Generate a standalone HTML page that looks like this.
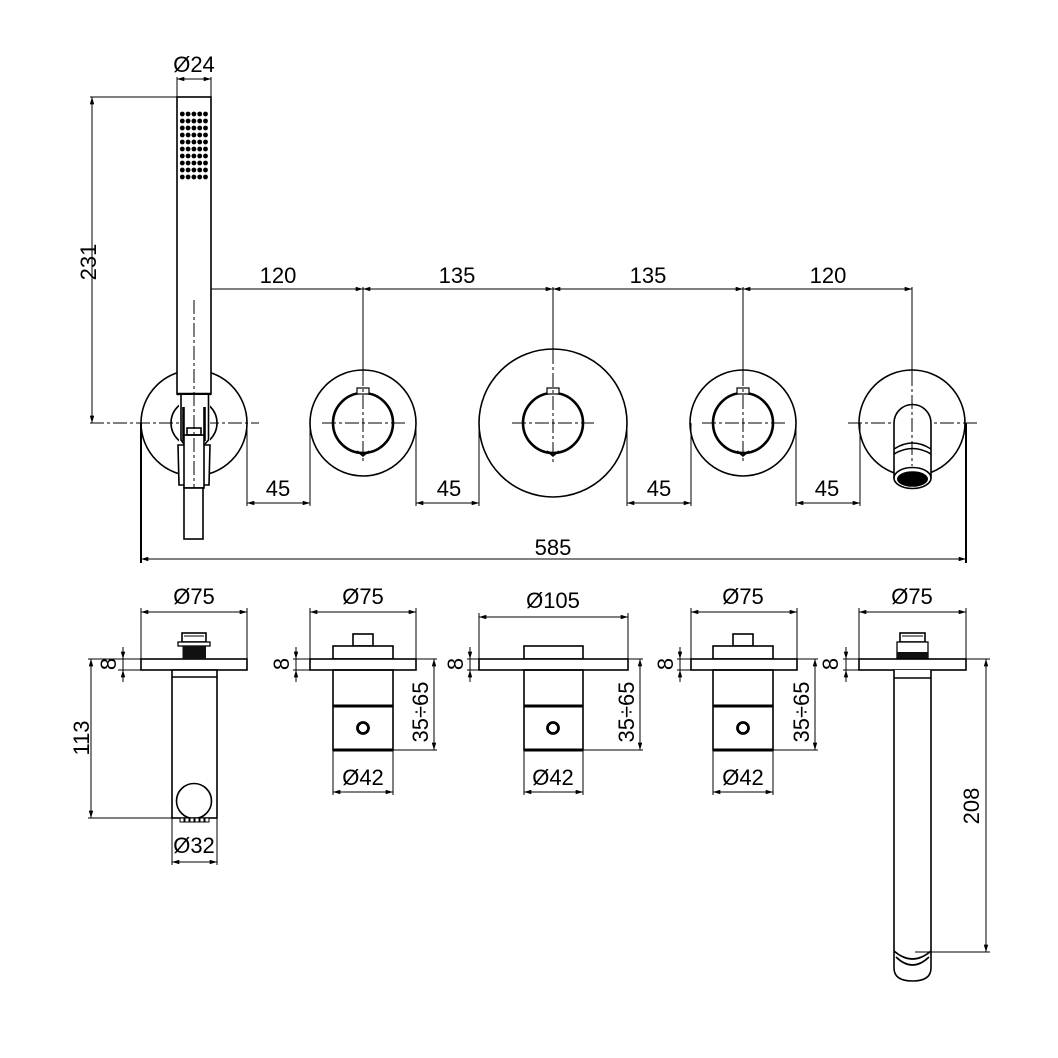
<!DOCTYPE html>
<html><head><meta charset="utf-8"><style>
html,body{margin:0;padding:0;background:#fff;}
svg{display:block;}
text{font-family:"Liberation Sans",sans-serif;font-size:22px;fill:#000;}
.o{stroke:#000;stroke-width:1.6;fill:none;}
.w{stroke:#000;stroke-width:1.6;fill:#fff;}
.d{stroke:#000;stroke-width:1;fill:none;}
.t{stroke:#000;stroke-width:3;fill:none;}
.c{stroke:#000;stroke-width:1;fill:none;stroke-dasharray:14 3 3 3;}
</style></head><body>
<svg width="1058" height="1058" viewBox="0 0 1058 1058" xmlns="http://www.w3.org/2000/svg">
<defs>
<marker id="a" viewBox="0 0 10 6" refX="10" refY="3" markerWidth="8" markerHeight="4.4" markerUnits="userSpaceOnUse" orient="auto-start-reverse"><path d="M0,0 L10,3 L0,6 z" fill="#000"/></marker>
</defs>
<rect width="1058" height="1058" fill="#fff"/>

<!-- ============ TOP VIEW ============ -->
<!-- Ø24 -->
<line class="d" x1="177" y1="77" x2="177" y2="97"/>
<line class="d" x1="211" y1="77" x2="211" y2="97"/>
<line class="d" x1="177" y1="79" x2="211" y2="79" marker-start="url(#a)" marker-end="url(#a)"/>
<text x="194" y="72" text-anchor="middle">Ø24</text>

<!-- 231 -->
<line class="d" x1="90" y1="97" x2="177" y2="97"/>
<line class="d" x1="92" y1="97" x2="92" y2="423" marker-start="url(#a)" marker-end="url(#a)"/>
<text transform="translate(96,262) rotate(-90)" text-anchor="middle">231</text>

<!-- chain dims 120/135/135/120 -->
<line class="d" x1="194" y1="287" x2="194" y2="300"/>
<line class="d" x1="363" y1="287" x2="363" y2="372"/>
<line class="d" x1="553" y1="287" x2="553" y2="350"/>
<line class="d" x1="743" y1="287" x2="743" y2="372"/>
<line class="d" x1="912" y1="287" x2="912" y2="372"/>
<line class="d" x1="194" y1="289" x2="363" y2="289" marker-start="url(#a)" marker-end="url(#a)"/>
<line class="d" x1="363" y1="289" x2="553" y2="289" marker-start="url(#a)" marker-end="url(#a)"/>
<line class="d" x1="553" y1="289" x2="743" y2="289" marker-start="url(#a)" marker-end="url(#a)"/>
<line class="d" x1="743" y1="289" x2="912" y2="289" marker-start="url(#a)" marker-end="url(#a)"/>
<text x="278" y="283" text-anchor="middle">120</text>
<text x="457" y="283" text-anchor="middle">135</text>
<text x="648" y="283" text-anchor="middle">135</text>
<text x="828" y="283" text-anchor="middle">120</text>

<!-- circle 1 holder -->
<circle class="o" cx="194" cy="423" r="53"/>
<line class="c" x1="90" y1="423" x2="259" y2="423"/>
<!-- hand shower -->
<rect class="w" x="177" y="97" width="34" height="297"/>
<line x1="177" y1="394" x2="211" y2="394" stroke="#000" stroke-width="2.5"/>
<g fill="#000">
<circle cx="182.3" cy="114" r="2.4"/><circle cx="188.1" cy="114" r="2.4"/><circle cx="193.9" cy="114" r="2.4"/><circle cx="199.7" cy="114" r="2.4"/><circle cx="205.5" cy="114" r="2.4"/>
<circle cx="182.3" cy="121" r="2.4"/><circle cx="188.1" cy="121" r="2.4"/><circle cx="193.9" cy="121" r="2.4"/><circle cx="199.7" cy="121" r="2.4"/><circle cx="205.5" cy="121" r="2.4"/>
<circle cx="182.3" cy="128" r="2.4"/><circle cx="188.1" cy="128" r="2.4"/><circle cx="193.9" cy="128" r="2.4"/><circle cx="199.7" cy="128" r="2.4"/><circle cx="205.5" cy="128" r="2.4"/>
<circle cx="182.3" cy="135" r="2.4"/><circle cx="188.1" cy="135" r="2.4"/><circle cx="193.9" cy="135" r="2.4"/><circle cx="199.7" cy="135" r="2.4"/><circle cx="205.5" cy="135" r="2.4"/>
<circle cx="182.3" cy="142" r="2.4"/><circle cx="188.1" cy="142" r="2.4"/><circle cx="193.9" cy="142" r="2.4"/><circle cx="199.7" cy="142" r="2.4"/><circle cx="205.5" cy="142" r="2.4"/>
<circle cx="182.3" cy="149" r="2.4"/><circle cx="188.1" cy="149" r="2.4"/><circle cx="193.9" cy="149" r="2.4"/><circle cx="199.7" cy="149" r="2.4"/><circle cx="205.5" cy="149" r="2.4"/>
<circle cx="182.3" cy="156" r="2.4"/><circle cx="188.1" cy="156" r="2.4"/><circle cx="193.9" cy="156" r="2.4"/><circle cx="199.7" cy="156" r="2.4"/><circle cx="205.5" cy="156" r="2.4"/>
<circle cx="182.3" cy="163" r="2.4"/><circle cx="188.1" cy="163" r="2.4"/><circle cx="193.9" cy="163" r="2.4"/><circle cx="199.7" cy="163" r="2.4"/><circle cx="205.5" cy="163" r="2.4"/>
<circle cx="182.3" cy="170" r="2.4"/><circle cx="188.1" cy="170" r="2.4"/><circle cx="193.9" cy="170" r="2.4"/><circle cx="199.7" cy="170" r="2.4"/><circle cx="205.5" cy="170" r="2.4"/>
<circle cx="182.3" cy="177" r="2.4"/><circle cx="188.1" cy="177" r="2.4"/><circle cx="193.9" cy="177" r="2.4"/><circle cx="199.7" cy="177" r="2.4"/><circle cx="205.5" cy="177" r="2.4"/>
</g>
<!-- holder clamp -->
<circle class="o" cx="194" cy="423" r="23"/>
<rect x="179" y="395" width="31" height="50" fill="#fff"/>
<path class="o" d="M181,395 V440 L184,444"/>
<line x1="183.5" y1="407" x2="183.5" y2="441" stroke="#000" stroke-width="2.6"/>
<path class="o" d="M208.5,395 V440 L205,444"/>
<line x1="204.5" y1="407" x2="204.5" y2="441" stroke="#000" stroke-width="2.6"/>
<path class="w" d="M178,445 L210,445 L209,485 L179,485 Z"/>
<rect class="w" x="184" y="435" width="20" height="53"/>
<rect class="o" x="187" y="428" width="14" height="7" stroke-width="1.2"/>
<rect class="w" x="184" y="488" width="19" height="51"/>
<line class="c" x1="194" y1="300" x2="194" y2="488"/>

<!-- circle 2 -->
<circle class="o" cx="363" cy="423" r="53"/>
<circle cx="363" cy="423" r="30" fill="none" stroke="#000" stroke-width="2.6"/>
<rect x="357" y="388" width="12" height="6" fill="#fff" stroke="#000" stroke-width="1.2"/>
<path d="M357,451 L363,456 L369,451" fill="none" stroke="#000" stroke-width="1.6"/>
<line class="c" x1="322" y1="423" x2="405" y2="423"/>
<line class="c" x1="363" y1="372" x2="363" y2="464"/>

<!-- circle 3 -->
<circle class="o" cx="553" cy="423" r="74"/>
<circle cx="553" cy="423" r="30" fill="none" stroke="#000" stroke-width="2.6"/>
<rect x="547" y="388" width="12" height="6" fill="#fff" stroke="#000" stroke-width="1.2"/>
<path d="M547,451 L553,456 L559,451" fill="none" stroke="#000" stroke-width="1.6"/>
<line class="c" x1="512" y1="423" x2="594" y2="423"/>
<line class="c" x1="553" y1="350" x2="553" y2="464"/>

<!-- circle 4 -->
<circle class="o" cx="743" cy="423" r="53"/>
<circle cx="743" cy="423" r="30" fill="none" stroke="#000" stroke-width="2.6"/>
<rect x="737" y="388" width="12" height="6" fill="#fff" stroke="#000" stroke-width="1.2"/>
<path d="M737,451 L743,456 L749,451" fill="none" stroke="#000" stroke-width="1.6"/>
<line class="c" x1="702" y1="423" x2="785" y2="423"/>
<line class="c" x1="743" y1="372" x2="743" y2="464"/>

<!-- circle 5 spout -->
<circle class="o" cx="912" cy="423" r="53"/>
<line class="c" x1="848" y1="423" x2="978" y2="423"/>
<path class="w" d="M894,478 V423 A18.5,18.5 0 0 1 931,423 V478 Z"/>
<path class="o" d="M894,449 Q912.5,437 931,449"/>
<path class="o" d="M894,454 Q912.5,443 931,454"/>
<ellipse cx="912.5" cy="478" rx="18.5" ry="10.5" fill="#fff" stroke="#000" stroke-width="1.6"/>
<ellipse cx="912.5" cy="479" rx="15.5" ry="7.8" fill="#000"/>
<line class="c" x1="912" y1="372" x2="912" y2="466"/>

<!-- 45 dims -->
<g class="d">
<line x1="247" y1="423" x2="247" y2="506"/><line x1="310" y1="423" x2="310" y2="506"/>
<line x1="416" y1="423" x2="416" y2="506"/><line x1="479" y1="423" x2="479" y2="506"/>
<line x1="627" y1="423" x2="627" y2="506"/><line x1="691" y1="423" x2="691" y2="506"/>
<line x1="796" y1="423" x2="796" y2="506"/><line x1="860" y1="423" x2="860" y2="506"/>
</g>
<line class="d" x1="247" y1="503" x2="310" y2="503" marker-start="url(#a)" marker-end="url(#a)"/>
<line class="d" x1="416" y1="503" x2="479" y2="503" marker-start="url(#a)" marker-end="url(#a)"/>
<line class="d" x1="627" y1="503" x2="691" y2="503" marker-start="url(#a)" marker-end="url(#a)"/>
<line class="d" x1="796" y1="503" x2="860" y2="503" marker-start="url(#a)" marker-end="url(#a)"/>
<text x="278" y="496" text-anchor="middle">45</text>
<text x="449" y="496" text-anchor="middle">45</text>
<text x="659" y="496" text-anchor="middle">45</text>
<text x="827" y="496" text-anchor="middle">45</text>

<!-- 585 -->
<line x1="141" y1="423" x2="141" y2="563" stroke="#000" stroke-width="2"/>
<line x1="966" y1="423" x2="966" y2="563" stroke="#000" stroke-width="2"/>
<line class="d" x1="141" y1="559" x2="966" y2="559" marker-start="url(#a)" marker-end="url(#a)"/>
<text x="553" y="555" text-anchor="middle">585</text>

<!-- ============ BOTTOM VIEWS ============ -->
<!-- view 1 -->
<line class="d" x1="141" y1="608" x2="141" y2="659"/>
<line class="d" x1="247" y1="608" x2="247" y2="659"/>
<line class="d" x1="141" y1="612" x2="247" y2="612" marker-start="url(#a)" marker-end="url(#a)"/>
<text x="194" y="604" text-anchor="middle">Ø75</text>
<rect class="w" x="141" y="659" width="106" height="11"/>
<rect class="o" x="182" y="633" width="24" height="9" stroke-width="1.3"/>
<line class="d" x1="184" y1="636" x2="204" y2="636"/>
<rect x="178" y="642" width="32" height="4" fill="#fff" stroke="#000" stroke-width="1.3"/>
<rect x="182.5" y="646" width="23.5" height="13" fill="#111"/>
<rect class="w" x="172" y="670" width="45" height="148"/>
<line class="o" x1="172" y1="677" x2="217" y2="677"/>
<circle class="o" cx="194" cy="801" r="17.5"/>
<g fill="#fff" stroke="#000" stroke-width="1">
<rect x="180" y="818" width="4" height="4"/><rect x="185" y="818" width="4" height="4"/><rect x="190" y="818" width="4" height="4"/><rect x="195" y="818" width="4" height="4"/><rect x="200" y="818" width="4" height="4"/><rect x="205" y="818" width="4" height="4"/>
</g>
<!-- 8 -->
<line class="d" x1="88" y1="659" x2="141" y2="659"/>
<line class="d" x1="118" y1="670" x2="141" y2="670"/>
<line class="d" x1="123" y1="647" x2="123" y2="682"/>
<line class="d" x1="123" y1="647" x2="123" y2="659" marker-end="url(#a)"/>
<line class="d" x1="123" y1="682" x2="123" y2="670" marker-end="url(#a)"/>
<text transform="translate(116,664) rotate(-90)" text-anchor="middle">8</text>
<!-- 113 -->
<line class="d" x1="88" y1="818" x2="172" y2="818"/>
<line class="d" x1="91" y1="659" x2="91" y2="818" marker-start="url(#a)" marker-end="url(#a)"/>
<text transform="translate(89,738) rotate(-90)" text-anchor="middle">113</text>
<!-- Ø32 -->
<line class="d" x1="172" y1="818" x2="172" y2="865"/>
<line class="d" x1="217" y1="818" x2="217" y2="865"/>
<line class="d" x1="172" y1="862" x2="217" y2="862" marker-start="url(#a)" marker-end="url(#a)"/>
<text x="194" y="853" text-anchor="middle">Ø32</text>

<!-- view 2 -->
<line class="d" x1="310" y1="608" x2="310" y2="659"/>
<line class="d" x1="416" y1="608" x2="416" y2="659"/>
<line class="d" x1="310" y1="612" x2="416" y2="612" marker-start="url(#a)" marker-end="url(#a)"/>
<text x="363" y="604" text-anchor="middle">Ø75</text>
<rect class="o" x="353" y="634" width="20" height="12"/>
<rect class="w" x="333" y="646" width="60" height="13"/>
<rect class="w" x="310" y="659" width="106" height="11"/>
<rect class="o" x="333" y="670" width="60" height="80"/>
<line class="t" x1="333" y1="706" x2="393" y2="706"/>
<line class="t" x1="333" y1="750" x2="393" y2="750"/>
<circle cx="363" cy="728" r="5.5" fill="none" stroke="#000" stroke-width="2.8"/>
<line class="d" x1="333" y1="750" x2="333" y2="795"/>
<line class="d" x1="393" y1="750" x2="393" y2="795"/>
<line class="d" x1="333" y1="792" x2="393" y2="792" marker-start="url(#a)" marker-end="url(#a)"/>
<text x="363" y="785" text-anchor="middle">Ø42</text>
<line class="d" x1="416" y1="659" x2="437" y2="659"/>
<line class="d" x1="393" y1="750" x2="437" y2="750"/>
<line class="d" x1="434" y1="659" x2="434" y2="750" marker-start="url(#a)" marker-end="url(#a)"/>
<text transform="translate(428,712) rotate(-90)" text-anchor="middle">35÷65</text>
<line class="d" x1="293" y1="659" x2="310" y2="659"/>
<line class="d" x1="293" y1="670" x2="310" y2="670"/>
<line class="d" x1="296" y1="647" x2="296" y2="682"/>
<line class="d" x1="296" y1="647" x2="296" y2="659" marker-end="url(#a)"/>
<line class="d" x1="296" y1="682" x2="296" y2="670" marker-end="url(#a)"/>
<text transform="translate(289,664) rotate(-90)" text-anchor="middle">8</text>

<!-- view 3 -->
<line class="d" x1="479" y1="613" x2="479" y2="659"/>
<line class="d" x1="628" y1="613" x2="628" y2="659"/>
<line class="d" x1="479" y1="617" x2="628" y2="617" marker-start="url(#a)" marker-end="url(#a)"/>
<text x="553" y="608" text-anchor="middle">Ø105</text>
<rect class="w" x="524" y="646" width="59" height="13"/>
<rect class="w" x="479" y="659" width="149" height="11"/>
<rect class="o" x="524" y="670" width="59" height="80"/>
<line class="t" x1="524" y1="706" x2="583" y2="706"/>
<line class="t" x1="524" y1="750" x2="583" y2="750"/>
<circle cx="553" cy="728" r="5.5" fill="none" stroke="#000" stroke-width="2.8"/>
<line class="d" x1="524" y1="750" x2="524" y2="795"/>
<line class="d" x1="583" y1="750" x2="583" y2="795"/>
<line class="d" x1="524" y1="792" x2="583" y2="792" marker-start="url(#a)" marker-end="url(#a)"/>
<text x="553" y="785" text-anchor="middle">Ø42</text>
<line class="d" x1="628" y1="659" x2="643" y2="659"/>
<line class="d" x1="583" y1="750" x2="643" y2="750"/>
<line class="d" x1="640" y1="659" x2="640" y2="750" marker-start="url(#a)" marker-end="url(#a)"/>
<text transform="translate(634,712) rotate(-90)" text-anchor="middle">35÷65</text>
<line class="d" x1="467" y1="659" x2="479" y2="659"/>
<line class="d" x1="467" y1="670" x2="479" y2="670"/>
<line class="d" x1="470" y1="647" x2="470" y2="682"/>
<line class="d" x1="470" y1="647" x2="470" y2="659" marker-end="url(#a)"/>
<line class="d" x1="470" y1="682" x2="470" y2="670" marker-end="url(#a)"/>
<text transform="translate(463,664) rotate(-90)" text-anchor="middle">8</text>

<!-- view 4 -->
<line class="d" x1="691" y1="608" x2="691" y2="659"/>
<line class="d" x1="797" y1="608" x2="797" y2="659"/>
<line class="d" x1="691" y1="612" x2="797" y2="612" marker-start="url(#a)" marker-end="url(#a)"/>
<text x="743" y="604" text-anchor="middle">Ø75</text>
<rect class="o" x="733" y="634" width="20" height="12"/>
<rect class="w" x="713" y="646" width="60" height="13"/>
<rect class="w" x="691" y="659" width="106" height="11"/>
<rect class="o" x="713" y="670" width="60" height="80"/>
<line class="t" x1="713" y1="706" x2="773" y2="706"/>
<line class="t" x1="713" y1="750" x2="773" y2="750"/>
<circle cx="743" cy="728" r="5.5" fill="none" stroke="#000" stroke-width="2.8"/>
<line class="d" x1="713" y1="750" x2="713" y2="795"/>
<line class="d" x1="773" y1="750" x2="773" y2="795"/>
<line class="d" x1="713" y1="792" x2="773" y2="792" marker-start="url(#a)" marker-end="url(#a)"/>
<text x="743" y="785" text-anchor="middle">Ø42</text>
<line class="d" x1="797" y1="659" x2="818" y2="659"/>
<line class="d" x1="773" y1="750" x2="818" y2="750"/>
<line class="d" x1="815" y1="659" x2="815" y2="750" marker-start="url(#a)" marker-end="url(#a)"/>
<text transform="translate(809,712) rotate(-90)" text-anchor="middle">35÷65</text>
<line class="d" x1="677" y1="659" x2="691" y2="659"/>
<line class="d" x1="677" y1="670" x2="691" y2="670"/>
<line class="d" x1="680" y1="647" x2="680" y2="682"/>
<line class="d" x1="680" y1="647" x2="680" y2="659" marker-end="url(#a)"/>
<line class="d" x1="680" y1="682" x2="680" y2="670" marker-end="url(#a)"/>
<text transform="translate(673,664) rotate(-90)" text-anchor="middle">8</text>

<!-- view 5 spout -->
<line class="d" x1="859" y1="608" x2="859" y2="659"/>
<line class="d" x1="966" y1="608" x2="966" y2="659"/>
<line class="d" x1="859" y1="612" x2="966" y2="612" marker-start="url(#a)" marker-end="url(#a)"/>
<text x="912" y="604" text-anchor="middle">Ø75</text>
<rect class="o" x="900" y="633" width="25" height="9" stroke-width="1.3"/>
<line class="d" x1="902" y1="636" x2="923" y2="636"/>
<rect x="897" y="642" width="31" height="17" fill="#fff" stroke="#000" stroke-width="1.3"/>
<rect x="897" y="652" width="31" height="7" fill="#111"/>
<rect class="w" x="859" y="659" width="107" height="11"/>
<path class="w" d="M894,670 V968 Q894,981 912.5,981 Q931,981 931,968 V670"/>
<line class="o" x1="894" y1="678" x2="931" y2="678"/>
<path class="o" d="M894,951 Q912.5,967 931,951"/>
<path class="o" d="M896,957 Q912.5,973 929,957"/>
<line class="d" x1="966" y1="659" x2="990" y2="659"/>
<line class="d" x1="915" y1="952" x2="990" y2="952"/>
<line class="d" x1="986" y1="659" x2="986" y2="952" marker-start="url(#a)" marker-end="url(#a)"/>
<text transform="translate(979,806) rotate(-90)" text-anchor="middle">208</text>
<line class="d" x1="843" y1="659" x2="859" y2="659"/>
<line class="d" x1="843" y1="670" x2="859" y2="670"/>
<line class="d" x1="846" y1="647" x2="846" y2="682"/>
<line class="d" x1="846" y1="647" x2="846" y2="659" marker-end="url(#a)"/>
<line class="d" x1="846" y1="682" x2="846" y2="670" marker-end="url(#a)"/>
<text transform="translate(838,664) rotate(-90)" text-anchor="middle">8</text>
</svg>
</body></html>
